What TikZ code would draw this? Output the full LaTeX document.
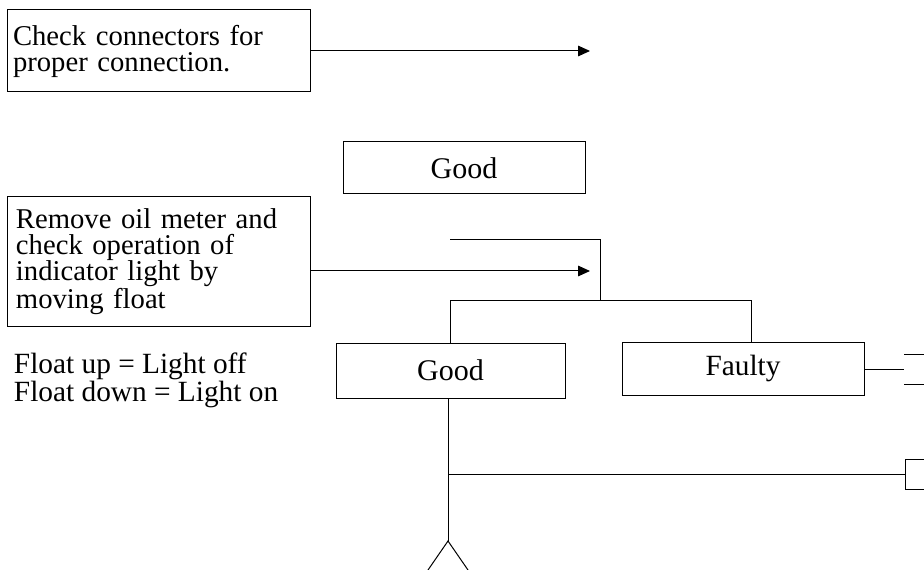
\documentclass[tikz,border=0pt]{standalone}
\usepackage{fontspec}
\setmainfont{Liberation Serif}
\usetikzlibrary{positioning,arrows.meta}

\begin{document}
\begin{tikzpicture}[x=0.75pt,y=-0.75pt,font=\fontsize{21.5}{19.5}\selectfont,line width=0.75pt]
  \tikzset{stepbox/.style={draw,rectangle,inner sep=0pt,align=left},
    okbox/.style={draw,rectangle,inner sep=0pt,align=center,font=\fontsize{22.5}{24}\selectfont},
    arr/.style={-{Triangle[length=9pt,width=8pt]}}}
  \useasboundingbox (0,0) rectangle (924,570);
  % steps on the left
  \node[stepbox,minimum width=303*0.75pt,minimum height=82*0.75pt,text width=291*0.75pt] (chk) at (158.5,51) {Check connectors for\\proper connection.};
  \node[stepbox,minimum width=303*0.75pt,minimum height=129*0.75pt,text width=285*0.75pt] (rem) at (158.5,261.5) {Remove oil meter and\\check operation of\\indicator light by\\moving float};
  \node[anchor=west,align=left,font=\fontsize{22}{19}\selectfont] (flt) at (9,380) {Float up = Light off\\Float down = Light on};
  % results
  \node[okbox,minimum width=242*0.75pt,minimum height=52*0.75pt] (good1) at (464,168) {Good};
  \node[okbox,minimum width=229*0.75pt,minimum height=55*0.75pt] (good2) at (450.5,370.5) {\raisebox{-1pt}{Good}};
  \node[okbox,minimum width=242*0.75pt,minimum height=53*0.75pt,font=\fontsize{22}{24}\selectfont] (faulty) at (743,368.5) {\raisebox{3pt}{Faulty}};
  \coordinate (tipA) at (590,51);
  \coordinate (tipB) at (590,271);
  \coordinate (inA) at (450,240);
  \coordinate (jn) at (600,240);
  \coordinate (bus) at (600,300);
  \coordinate (busR) at (751,300);
  \coordinate (fork) at (448,541);
  \coordinate (nextA) at (904,369);
  \coordinate (nextB) at (905,474);
  % connectors
  \draw[arr] (chk.east |- tipA) -- (tipA);
  \draw[arr] (rem.east |- tipB) -- (tipB);
  \draw (inA) -- (jn) -- (bus);
  \draw (good2.north) -- (good2.north |- bus) -- (busR) -- (busR |- faulty.north);
  \draw (faulty.east |- nextA) -- (nextA);
  \draw (nextA |- 0,354) -- (924,354);
  \draw (nextA |- 0,384) -- (924,384);
  \draw (good2.south -| fork) -- (fork);
  \draw (428,570) -- (fork) -- (468,570);
  \draw (fork |- nextB) -- (nextB);
  \draw (924,459) -- (905,459) -- (905,489) -- (924,489);
\end{tikzpicture}
\end{document}
